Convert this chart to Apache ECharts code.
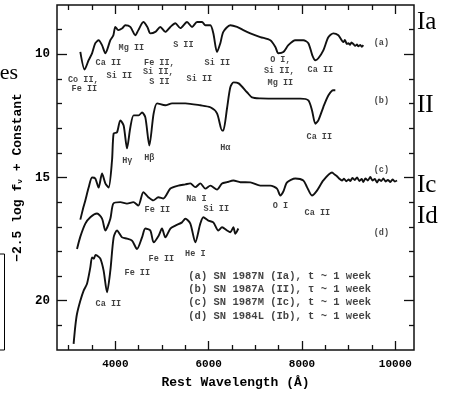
<!DOCTYPE html>
<html><head><meta charset="utf-8">
<script src="https://cdn.jsdelivr.net/npm/echarts@6/dist/echarts.min.js"></script>
<style>html,body{margin:0;padding:0;background:#fff}#c{width:456px;height:396px}</style>
</head><body><div id="c"></div>
<script>
// Spectrum (a) SN 1987N (Ia)
const waveA = [3250,3342,3428,3501,3571,3642,3715,3786,3893,3957,4000,4064,4150,4214,4321,4429,4493,4600,4686,4750,4857,4964,5071,5179,5286,5393,5536,5644,5751,5858,5929,6036,6100,6179,6250,6314,6464,6608,6743,6893,7107,7321,7429,7493,7600,7707,7857,8029,8136,8221,8286,8350,8457,8564,8671,8779,8886,8920,8960,8993,9030,9060,9100,9140,9180,9207,9250,9280,9314];
const magA  = [9.90,10.62,10.24,9.96,9.55,9.43,9.63,9.96,9.43,9.23,8.89,9.02,8.94,8.82,8.89,9.23,9.02,8.69,8.89,9.15,9.09,8.89,9.09,8.89,8.74,8.94,8.69,8.89,8.69,8.69,8.82,8.82,9.15,9.91,9.55,9.09,8.82,8.89,9.02,9.15,9.30,9.43,9.70,9.96,9.91,9.63,9.43,9.43,9.55,10.04,10.24,10.16,9.84,9.31,9.15,9.23,9.50,9.42,9.58,9.55,9.62,9.52,9.58,9.66,9.60,9.68,9.62,9.70,9.63];
// Spectrum (b) SN 1987A (II)
const waveB = [3250,3314,3357,3428,3501,3571,3642,3715,3786,3856,3929,3964,4036,4107,4178,4250,4321,4392,4499,4572,4643,4729,4821,4894,5071,5215,5500,5821,6036,6179,6287,6314,6393,6464,6535,6642,6822,6929,7107,7536,7964,8136,8215,8286,8350,8457,8564,8671,8714];
const magB  = [16.71,16.22,15.93,15.41,15.00,15.04,15.41,14.84,15.24,15.41,14.31,13.21,13.17,12.68,12.89,13.82,12.97,12.48,12.48,12.36,12.56,13.70,12.40,11.99,12.07,11.99,11.99,12.07,12.15,12.40,13.09,13.09,12.20,11.34,11.14,11.18,11.54,11.75,11.79,11.80,11.80,11.87,12.28,12.82,12.68,12.14,11.67,11.46,11.46];
// Spectrum (c) SN 1987M (Ic)
const waveC = [3179,3250,3357,3464,3608,3715,3786,3893,3957,4107,4250,4386,4493,4600,4707,4814,4921,5029,5179,5350,5500,5607,5714,5821,5929,6036,6179,6287,6393,6529,6679,6893,7107,7321,7464,7536,7600,7679,7857,8029,8107,8214,8321,8457,8643,8700,8750,8800,8857,8900,8950,9000,9036,9080,9130,9179,9230,9280,9314,9360,9410,9464,9510,9560,9607,9650,9700,9743,9790,9840,9893,9940,9990,10036];
const magC  = [17.90,17.40,16.87,16.61,16.46,16.67,17.15,16.67,16.06,16.00,16.06,16.00,16.14,15.60,15.80,15.93,15.80,15.85,15.45,15.33,15.28,15.24,15.39,15.24,15.45,15.33,15.49,15.24,15.19,15.12,15.19,15.20,15.33,15.33,15.45,15.73,15.57,15.20,15.04,15.12,15.39,15.73,15.53,15.12,14.80,14.88,14.95,15.05,15.12,15.05,15.15,15.08,15.14,15.02,15.10,15.00,15.14,15.06,15.18,15.04,15.12,14.98,15.12,15.06,15.20,15.08,15.14,15.04,15.16,15.10,15.18,15.08,15.16,15.12];
// Spectrum (d) SN 1984L (Ib)
const waveD = [3106,3143,3179,3250,3321,3393,3464,3501,3540,3575,3608,3679,3749,3822,3893,3964,4036,4144,4250,4357,4465,4572,4643,4750,4821,4928,5000,5071,5179,5286,5429,5500,5607,5714,5821,5886,5993,6100,6207,6287,6393,6464,6529,6571,6636];
const magD  = [21.75,21.02,20.53,20.00,19.59,19.31,18.65,18.24,18.30,18.14,18.17,18.29,18.78,19.66,18.78,17.43,17.15,17.43,17.48,17.56,17.90,17.43,17.07,17.15,17.63,17.36,17.07,17.43,17.07,16.95,16.82,16.67,16.87,17.63,16.87,16.61,16.75,16.82,17.15,17.02,17.15,17.22,17.02,17.28,17.07];

// Tick values
const xMajorTicks = [4000,6000,8000,10000];
const xMinorTicks = [3000,3500,4500,5000,5500,6500,7000,7500,8500,9000,9500];
const yMajorTicks = [10,15,20];
const yMinorTicks = [9,11,12,13,14,16,17,18,19,21];

// Line identifications: text, wavelength, magnitude position
const lineIdText = ['Co II,','Fe II','Ca II','Si II','Mg II','Fe II,','Si II,','S II','S II','Si II','Si II','O I,','Si II,','Mg II','Ca II','(a)','Hγ','Hβ','Hα','Ca II','(b)','(c)','Fe II','Na I','Si II','O I','Ca II','(d)','Ca II','Fe II','Fe II','He I'];
const lineIdWave = [3314,3336,3850,4086,4343,4943,4921,4943,5457,5800,6186,7536,7514,7536,8393,9700,4257,4729,6357,8371,9700,9700,4900,5736,6164,7536,8329,9700,3850,4471,4986,5714];
const lineIdMag  = [11.02,11.42,10.33,10.89,9.72,10.33,10.73,11.10,9.63,10.98,10.33,10.24,10.69,11.14,10.65,9.55,14.31,14.19,13.78,13.37,11.87,14.67,16.30,15.85,16.26,16.14,16.42,17.24,20.12,18.86,18.29,18.09];

// Legend text lines
const legendText = ['(a) SN 1987N (Ia), t ~ 1 week','(b) SN 1987A (II), τ ~ 1 week','(c) SN 1987M (Ic), t ~ 1 week','(d) SN 1984L (Ib), t ~ 1 week'];
const legendWave = [5564,5564,5564,5564];
const legendMag  = [19.02,19.55,20.08,20.65];

const MONO = '"Liberation Mono", "DejaVu Sans Mono", monospace';
const SERIF = '"Liberation Serif", "DejaVu Serif", serif';

function pairs(w, m){ return w.map((x,i)=>[x, m[i]]); }

const chart = echarts.init(document.getElementById('c'), null, {renderer:'canvas'});
const XMIN = 2750, XMAX = 10400, YMIN = 8, YMAX = 22;
const lineCol = '#111';

function xAx(pos, ticks, len, opts){
  return Object.assign({
    type:'value', position:pos, min:XMIN, max:XMAX,
    axisLine:{show:false}, splitLine:{show:false},
    axisTick:{show:true, inside:true, length:len, customValues:ticks, lineStyle:{color:lineCol, width:1.3}},
    axisLabel:{show:false}
  }, opts||{});
}
function yAx(pos, ticks, len, opts){
  return Object.assign({
    type:'value', position:pos, min:YMIN, max:YMAX, inverse:true,
    axisLine:{show:false}, splitLine:{show:false},
    axisTick:{show:true, inside:true, length:len, customValues:ticks, lineStyle:{color:lineCol, width:1.3}},
    axisLabel:{show:false}
  }, opts||{});
}

const specLine = {type:'line', showSymbol:false, smooth:0.25, xAxisIndex:0, yAxisIndex:0,
  lineStyle:{color:lineCol, width:1.9}, silent:true, animation:false};

const option = {
  animation:false,
  backgroundColor:'#fff',
  grid:{left:57, right:42, top:5, bottom:46, show:true, borderColor:lineCol, borderWidth:1.5, backgroundColor:'transparent'},
  xAxis:[
    xAx('bottom', xMajorTicks, 9, {
      axisLabel:{show:true, customValues:xMajorTicks, margin:9, formatter:v=>String(v), fontFamily:MONO, fontWeight:'bold', fontSize:11, color:'#000'},
      name:'Rest Wavelength (Å)', nameLocation:'middle', nameGap:26,
      nameTextStyle:{fontFamily:MONO, fontWeight:'bold', fontSize:13, color:'#000'}
    }),
    xAx('bottom', xMinorTicks, 5),
    xAx('top', xMajorTicks, 9),
    xAx('top', xMinorTicks, 5)
  ],
  yAxis:[
    yAx('left', yMajorTicks, 10, {
      axisLabel:{show:true, customValues:yMajorTicks, margin:7, fontFamily:MONO, fontWeight:'bold', fontSize:12.5, color:'#000'},
      name:'−2.5 log f{s|ν} + Constant', nameLocation:'middle', nameGap:29, nameRotate:90,
      nameTextStyle:{fontFamily:MONO, fontWeight:'bold', fontSize:13, color:'#000',
        rich:{s:{fontFamily:MONO, fontWeight:'bold', fontSize:8, color:'#000', verticalAlign:'bottom'}}}
    }),
    yAx('left', yMinorTicks, 5),
    yAx('right', yMajorTicks, 10),
    yAx('right', yMinorTicks, 5)
  ],
  series:[
    Object.assign({}, specLine, {name:'a', data:pairs(waveA, magA)}),
    Object.assign({}, specLine, {name:'b', data:pairs(waveB, magB)}),
    Object.assign({}, specLine, {name:'c', data:pairs(waveC, magC)}),
    Object.assign({}, specLine, {name:'d', data:pairs(waveD, magD)}),
    {type:'scatter', symbolSize:0, silent:true, xAxisIndex:0, yAxisIndex:0,
      data:lineIdText.map((t,i)=>({value:[lineIdWave[i], lineIdMag[i]], name:t})),
      label:{show:true, position:'inside', formatter:p=>p.name, fontFamily:MONO, fontWeight:'bold', fontSize:8.5, color:'#111'}},
    {type:'scatter', symbolSize:0, silent:true, xAxisIndex:0, yAxisIndex:0,
      data:legendText.map((t,i)=>({value:[legendWave[i], legendMag[i]], name:t})),
      label:{show:true, position:'inside', align:'left', formatter:p=>p.name, fontFamily:MONO, fontWeight:'bold', fontSize:10.5, color:'#111'}}
  ],
  graphic:[
    {type:'text', x:417, y:22, style:{text:'Ia', font:'25px '+SERIF, fill:'#000', textVerticalAlign:'middle'}},
    {type:'text', x:417, y:105, style:{text:'II', font:'25px '+SERIF, fill:'#000', textVerticalAlign:'middle'}},
    {type:'text', x:417, y:185, style:{text:'Ic', font:'25px '+SERIF, fill:'#000', textVerticalAlign:'middle'}},
    {type:'text', x:417, y:216, style:{text:'Id', font:'25px '+SERIF, fill:'#000', textVerticalAlign:'middle'}},
    {type:'text', x:18, y:73, style:{text:'es', font:'22px '+SERIF, fill:'#000', textVerticalAlign:'middle', textAlign:'right'}},
    {type:'polyline', shape:{points:[[0,254],[4.5,254],[4.5,350],[0,350]]}, style:{stroke:'#000', lineWidth:1, fill:null}}
  ]
};
chart.setOption(option);
</script></body></html>
